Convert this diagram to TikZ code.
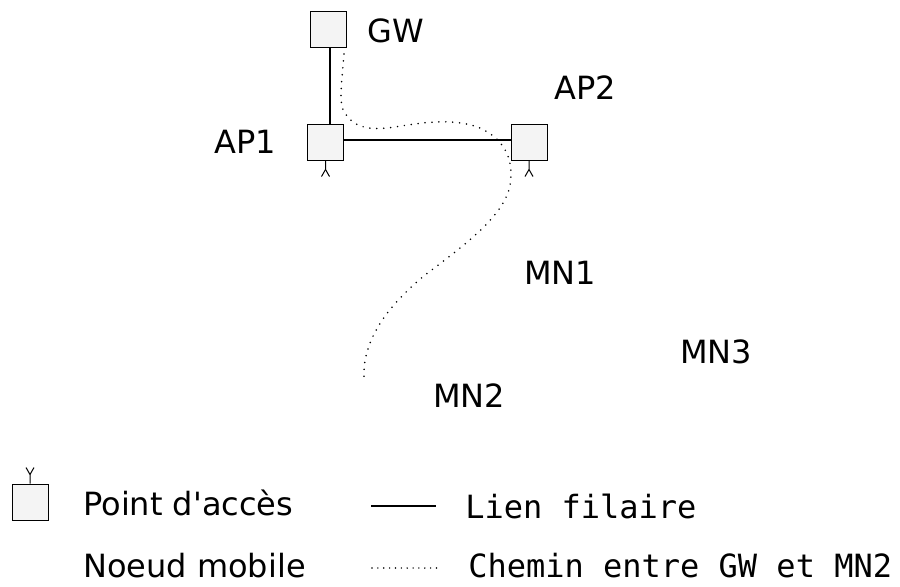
\documentclass[tikz,border=0pt]{standalone}
\usepackage{fontspec}
\setmainfont{DejaVu Sans}
\setmonofont{DejaVu Sans Mono}
\usepackage{tikz}
\usetikzlibrary{positioning}
\tikzset{font={\fontsize{24pt}{28pt}\selectfont}}
\tikzset{
	apbox/.style={rectangle, draw, line width=0.75pt, fill={rgb,255:red,244;green,244;blue,244}, minimum size=27pt, inner sep=0pt},
	label_txt/.style={inner sep=0pt, text height=18pt, text depth=0pt},
	legend_txt/.style={inner sep=0pt, anchor=west, text height=18pt, text depth=5pt},
	wire/.style={line width=1.1pt},
	mesh_path/.style={line width=1.3pt, line cap=round, dash pattern=on 0pt off 5.2pt},
	antenna/.style={line width=0.75pt}
}

\begin{document}
\begin{tikzpicture}[x=0.75pt, y=-0.75pt]

	\useasboundingbox (0,0) rectangle (900,586);

	\node (gw) [apbox] at (328.5,29) {};
	\node (ap1) [apbox] at (325.5,142) {};
	\node (ap2) [apbox] at (529,142) {};
	\node (legend_ap) [apbox] at (30,502) {};

	\node (gw_label) [label_txt] at (395.5,30) {GW};
	\node (ap1_label) [label_txt] at (245.5,141) {AP1};
	\node (ap2_label) [label_txt] at (585.5,87) {AP2};
	\node (mn1_label) [label_txt] at (560,272.5) {MN1};
	\node (mn2_label) [label_txt] at (469,395.5) {MN2};
	\node (mn3_label) [label_txt] at (716,351.5) {MN3};

	% wired links
	\draw [wire] (gw.south -| 330,0) -- (ap1.north -| 330,0);
	\draw [wire] ([yshift=1.5pt]ap1.east) -- ([yshift=1.5pt]ap2.west);

	% antennas
	\foreach \ap in {ap1, ap2} {
		\draw [antenna] (\ap.south) -- ++(0,9) coordinate (\ap_top) -- ++(-4,7);
		\draw [antenna] (\ap_top) -- ++(4,7);
	}
	\draw [antenna] (legend_ap.north) -- ++(0,-9) coordinate (legend_top) -- ++(-4,-7);
	\draw [antenna] (legend_top) -- ++(4,-7);

	% path from GW to MN2
	\coordinate (path_start) at (344,54);
	\coordinate (path_end) at (364,378);
	\draw [mesh_path] (path_start)
	.. controls (342,80) and (338,105) .. (345,113)
	.. controls (355,130) and (375,130) .. (395,127)
	.. controls (425,122) and (455,118) .. (480,128)
	.. controls (500,137) and (515,155) .. (510,185)
	.. controls (505,215) and (465,245) .. (425,275)
	.. controls (395,300) and (362,335) .. (path_end);

	% legend
	\node (legend_ap_txt) [legend_txt] at (83,507) {Point d\textquotesingle accès};
	\node (legend_mn_txt) [legend_txt, below=23.3pt of legend_ap_txt.south west, anchor=north west] {Noeud mobile};
	\coordinate (wire_a) at (371,506);
	\coordinate (wire_b) at (436,506);
	\coordinate (dots_a) at (372,568);
	\coordinate (dots_b) at (438,568);
	\draw [wire, line width=0.9pt] (wire_a) -- (wire_b);
	\draw [mesh_path, line width=1.2pt, dash pattern=on 0pt off 4.4pt] (dots_a) -- (dots_b);
	\node (legend_wire_txt) [legend_txt] at (465,510) {\ttfamily Lien filaire};
	\node (legend_path_txt) [legend_txt] at (468,569) {\ttfamily Chemin entre GW et MN2};

\end{tikzpicture}
\end{document}
